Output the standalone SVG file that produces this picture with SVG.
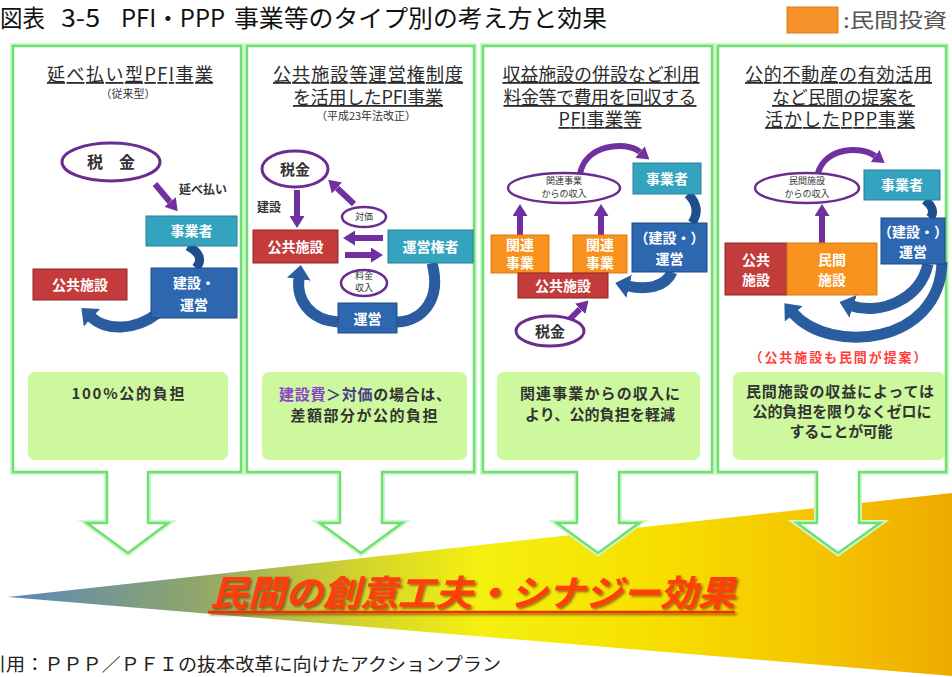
<svg xmlns="http://www.w3.org/2000/svg" width="952" height="677" viewBox="0 0 952 677">
<style>
text{font-family:"Noto Sans CJK JP","Noto Sans",sans-serif;}
.ttl{font-size:18px;fill:#2b2b2b;text-anchor:middle;text-decoration:underline;}
.sub{font-size:11px;fill:#333;text-anchor:middle;}
.bx{font-size:14px;font-weight:bold;fill:#fff;text-anchor:middle;}
.sm{font-size:9px;fill:#333;text-anchor:middle;}
.lbl{font-size:12px;font-weight:bold;fill:#333;}
.el{fill:#fff;stroke:#6a2c8f;stroke-width:3;}
.el2{fill:#fff;stroke:#6a2c8f;stroke-width:2.5;}
.red{fill:#c43b3b;stroke:#8e2626;stroke-width:1;}
.teal{fill:#34a3bf;stroke:#24809a;stroke-width:1;}
.blue{fill:#2c67b0;stroke:#1d4a85;stroke-width:1;}
.org{fill:#f7921f;stroke:#dd7a14;stroke-width:1;}
.pa{stroke:#7030a0;stroke-width:6;fill:none;marker-end:url(#mp);}
.ba{stroke:#2a5d9f;stroke-width:11;fill:none;marker-end:url(#mb);}
.bc{stroke:#1f4f8a;stroke-width:9;fill:none;}
.panel{fill:#fff;stroke:#6fe06f;stroke-width:2.5;}
.glow{fill:none;stroke:#cdf7cd;stroke-width:6;}
.gbox{fill:#cdf89d;}
.tx{font-size:15px;font-weight:bold;fill:#333;text-anchor:middle;}
</style>
<defs>
<marker id="mp" viewBox="0 0 8 10" refX="0" refY="5" markerWidth="2" markerHeight="2.5" orient="auto"><path d="M0,0L8,5L0,10z" fill="#7030a0"/></marker>
<marker id="mb" viewBox="0 0 6 10" refX="0.5" refY="5" markerWidth="1.3" markerHeight="2.17" orient="auto"><path d="M0,0L6,5L0,10z" fill="#2a5d9f"/></marker>
<linearGradient id="wedge" gradientUnits="userSpaceOnUse" x1="8" y1="0" x2="952" y2="0">
<stop offset="0" stop-color="#5a88b8"/>
<stop offset="0.2" stop-color="#8fa66a"/>
<stop offset="0.36" stop-color="#cfd030"/>
<stop offset="0.5" stop-color="#f4f010"/>
<stop offset="0.68" stop-color="#f7e000"/>
<stop offset="0.86" stop-color="#f5c400"/>
<stop offset="1" stop-color="#eeaa00"/>
</linearGradient>
<filter id="shadow" x="-5%" y="-20%" width="110%" height="150%">
<feDropShadow dx="2" dy="2" stdDeviation="0.8" flood-color="#7a1a00" flood-opacity="0.6"/>
</filter>
</defs>
<rect width="952" height="677" fill="#fff"/>

<g id="header">
<text x="0" y="27" font-size="24" fill="#111"><tspan x="0" textLength="45" lengthAdjust="spacingAndGlyphs">図表</tspan><tspan x="61" textLength="39" lengthAdjust="spacingAndGlyphs">3-5</tspan><tspan x="121" textLength="104" lengthAdjust="spacingAndGlyphs">PFI・PPP</tspan><tspan x="234" textLength="373" lengthAdjust="spacingAndGlyphs">事業等のタイプ別の考え方と効果</tspan></text>
</g>
<g id="legend">
<rect x="787" y="7" width="51" height="26" fill="#f7922a" stroke="#e07a18"/>
<text x="843" y="28" font-size="20" fill="#555" textLength="104" lengthAdjust="spacingAndGlyphs">:民間投資</text>
</g>

<g id="banner">
<path d="M8,597 L952,493 L952,676 Z" fill="url(#wedge)"/>
<g filter="url(#shadow)">
<text x="210" y="606" font-size="36" font-weight="bold" font-style="italic" fill="#ff3c0a" textLength="525" lengthAdjust="spacingAndGlyphs">民間の創意工夫・シナジー効果</text>
<line x1="208" y1="612" x2="735" y2="612" stroke="#e83500" stroke-width="2.5"/>
</g>
</g>

<g id="panels">
<g id="panel1">
<path class="glow" d="M13,46 H241 V472 H148 V523 H168 L128,553 L87,523 H107 V472 H13 Z"/>
<path class="panel" d="M13,46 H241 V472 H148 V523 H168 L128,553 L87,523 H107 V472 H13 Z"/>
</g>
<g id="panel2">
<path class="glow" d="M247,46 H474 V472 H382 V523 H402 L361,553 L320,523 H340 V472 H247 Z"/>
<path class="panel" d="M247,46 H474 V472 H382 V523 H402 L361,553 L320,523 H340 V472 H247 Z"/>
</g>
<g id="panel3">
<path class="glow" d="M483,46 H712 V472 H619 V523 H639 L598,553 L557,523 H577 V472 H483 Z"/>
<path class="panel" d="M483,46 H712 V472 H619 V523 H639 L598,553 L557,523 H577 V472 H483 Z"/>
</g>
<g id="panel4">
<path class="glow" d="M718,46 H946 V472 H859 V523 H880 L838,553 L797,523 H817 V472 H718 Z"/>
<path class="panel" d="M718,46 H946 V472 H859 V523 H880 L838,553 L797,523 H817 V472 H718 Z"/>
</g>
</g>

<g id="connectors">
<path class="pa" d="M155,184 L170,202"/>
<path class="bc" d="M188,246 Q206,256 196,268"/>
<path class="ba" d="M158,313 C135,331 106,331 91,317"/>

<path class="pa" d="M297,190 L297,216"/>
<path class="pa" d="M354,204 L337,188"/>
<path class="pa" d="M383,238 L355,238"/>
<path class="pa" d="M345,255 L371,255"/>
<path class="ba" d="M432,263 C442,300 422,321 397,322" style="marker-end:none"/>
<path class="ba" d="M338,322 C310,320 296,300 299,278"/>

<path class="pa" d="M580,174 C585,145 625,140 640,152"/>
<path class="pa" d="M520,235 L520,216"/>
<path class="pa" d="M601,235 L601,216"/>
<path class="bc" d="M688,194 Q702,208 692,223"/>
<path class="ba" d="M672,272 C665,288 645,290 628,286"/>
<path class="pa" d="M570,319 L580,309"/>

<path class="pa" d="M818,173 C825,148 860,145 875,156"/>
<path class="pa" d="M822,243 L822,216"/>
<path class="bc" d="M925,200 Q937,210 930,218"/>
<path class="ba" d="M928,264 C920,300 880,315 852,306"/>
<path class="ba" d="M942,262 C940,345 830,355 793,313"/>
</g>

<g id="p1-nodes">
<text class="ttl" x="130" y="81" textLength="166">延べ払い型PFI事業</text>
<text class="sub" x="128" y="98">（従来型）</text>
<g id="p1-tax"><ellipse class="el" cx="111" cy="162" rx="49" ry="19"/><text x="111" y="168" font-size="16" font-weight="bold" fill="#333" text-anchor="middle">税　金</text></g>
<text class="lbl" x="179" y="194" font-size="13">延べ払い</text>
<g id="p1-operator"><rect class="teal" x="146" y="216" width="91" height="30"/><text class="bx" x="191.5" y="236">事業者</text></g>
<g id="p1-build"><rect class="blue" x="151" y="268" width="86" height="50"/><text class="bx" x="194" y="288">建設・</text><text class="bx" x="194" y="310">運営</text></g>
<g id="p1-public"><rect class="red" x="33" y="269" width="94" height="31"/><text class="bx" x="80" y="290">公共施設</text></g>
<g id="p1-note"><rect class="gbox" x="28" y="372" width="200" height="88" rx="7"/><text class="tx" x="128" y="399" textLength="113">100%公的負担</text></g>
</g>

<g id="p2-nodes">
<text class="ttl" x="368" y="81" textLength="190">公共施設等運営権制度</text>
<text class="ttl" x="368" y="104" textLength="150">を活用したPFI事業</text>
<text class="sub" x="366" y="120">（平成23年法改正）</text>
<g id="p2-tax"><ellipse class="el" cx="295" cy="169" rx="33" ry="18"/><text x="295" y="175" font-size="15" font-weight="bold" fill="#333" text-anchor="middle">税金</text></g>
<text class="lbl" x="257" y="212" font-size="11">建設</text>
<g id="p2-price"><ellipse class="el2" cx="364" cy="217" rx="22" ry="10"/><text class="sm" x="364" y="220">対価</text></g>
<g id="p2-public"><rect class="red" x="253" y="230" width="85" height="33"/><text class="bx" x="295.5" y="252">公共施設</text></g>
<g id="p2-concession"><rect class="teal" x="388" y="230" width="85" height="33"/><text class="bx" x="430.5" y="252">運営権者</text></g>
<g id="p2-fee"><ellipse class="el2" cx="364" cy="283" rx="23" ry="13"/><text class="sm" x="364" y="279" font-size="7.5">料金</text><text class="sm" x="364" y="291" font-size="7.5">収入</text></g>
<g id="p2-ops"><rect class="blue" x="338" y="303" width="59" height="30"/><text class="bx" x="367.5" y="324">運営</text></g>
<g id="p2-note"><rect class="gbox" x="262" y="372" width="205" height="88" rx="7"/><text class="tx" x="365" y="400" textLength="172"><tspan fill="#8a45c8">建設費</tspan><tspan fill="#4a3a8a">＞対価</tspan>の場合は、</text><text class="tx" x="364" y="421" textLength="147">差額部分が公的負担</text></g>
</g>

<g id="p3-nodes">
<text class="ttl" x="601" y="81" textLength="197">収益施設の併設など利用</text>
<text class="ttl" x="600" y="104" textLength="193">料金等で費用を回収する</text>
<text class="ttl" x="600" y="126" textLength="83">PFI事業等</text>
<g id="p3-income"><ellipse class="el2" cx="564" cy="188" rx="56" ry="15"/><text class="sm" x="564" y="184">関連事業</text><text class="sm" x="564" y="197">からの収入</text></g>
<g id="p3-operator"><rect class="teal" x="633" y="163" width="68" height="31"/><text class="bx" x="667" y="184">事業者</text></g>
<g id="p3-build"><rect class="blue" x="632" y="223" width="75" height="49"/><text class="bx" x="669.5" y="243" font-size="13">（建設・）</text><text class="bx" x="669.5" y="264" font-size="13">運営</text></g>
<g id="p3-rel1"><rect class="org" x="491" y="235" width="58" height="38"/><text class="bx" x="520" y="250" font-size="12">関連</text><text class="bx" x="520" y="268" font-size="12">事業</text></g>
<g id="p3-rel2"><rect class="org" x="573" y="235" width="54" height="38"/><text class="bx" x="600" y="250" font-size="12">関連</text><text class="bx" x="600" y="268" font-size="12">事業</text></g>
<g id="p3-public"><rect class="red" x="518" y="273" width="90" height="25"/><text class="bx" x="563" y="291" font-size="13">公共施設</text></g>
<g id="p3-tax"><ellipse class="el" cx="550" cy="331" rx="34" ry="15"/><text x="550" y="337" font-size="15" font-weight="bold" fill="#333" text-anchor="middle">税金</text></g>
<g id="p3-note"><rect class="gbox" x="497" y="372" width="203" height="88" rx="7"/><text class="tx" x="600" y="399" textLength="160">関連事業からの収入に</text><text class="tx" x="600" y="420" textLength="150">より、公的負担を軽減</text></g>
</g>

<g id="p4-nodes">
<text class="ttl" x="838.5" y="81" textLength="187">公的不動産の有効活用</text>
<text class="ttl" x="843.5" y="104" textLength="143">など民間の提案を</text>
<text class="ttl" x="840" y="126" textLength="150">活かしたPPP事業</text>
<g id="p4-income"><ellipse class="el2" cx="807" cy="188" rx="52" ry="15"/><text class="sm" x="807" y="184">民間施設</text><text class="sm" x="807" y="197">からの収入</text></g>
<g id="p4-operator"><rect class="teal" x="864" y="170" width="76" height="30"/><text class="bx" x="902" y="190">事業者</text></g>
<g id="p4-build"><rect class="blue" x="881" y="218" width="64" height="46"/><text class="bx" x="913" y="237" font-size="11.5">（建設・）</text><text class="bx" x="913" y="257" font-size="13">運営</text></g>
<g id="p4-public"><rect class="red" x="725" y="243" width="62" height="52"/><text class="bx" x="756" y="265" font-size="13">公共</text><text class="bx" x="756" y="285" font-size="13">施設</text></g>
<g id="p4-private"><rect class="org" x="787" y="243" width="90" height="52"/><text class="bx" x="832" y="265" font-size="13">民間</text><text class="bx" x="832" y="285" font-size="13">施設</text></g>
<text x="838" y="362" font-size="13" font-weight="bold" fill="#ff3d3d" text-anchor="middle" textLength="177">（公共施設も民間が提案）</text>
<g id="p4-note"><rect class="gbox" x="733" y="372" width="212" height="88" rx="7"/><text class="tx" x="840" y="397" textLength="188">民間施設の収益によっては</text><text class="tx" x="842" y="417" textLength="179">公的負担を限りなくゼロに</text><text class="tx" x="841" y="437" textLength="103">することが可能</text></g>
</g>

<g id="source">
<text x="-13" y="671" font-size="18" fill="#222" textLength="514" lengthAdjust="spacingAndGlyphs">引用：ＰＰＰ／ＰＦＩの抜本改革に向けたアクションプラン</text>
</g>
</svg>
